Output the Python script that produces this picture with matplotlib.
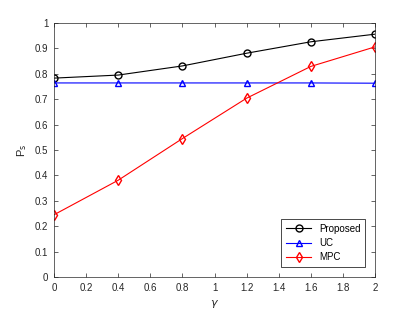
"""Ps versus gamma for the three schemes."""

import matplotlib
matplotlib.use("Agg")
import matplotlib.pyplot as plt
import numpy as np

gamma = [0, 0.4, 0.8, 1.2, 1.6, 2.0]
ps_proposed = [0.783, 0.795, 0.831, 0.881, 0.926, 0.956]
ps_uc = [0.764, 0.764, 0.764, 0.764, 0.764, 0.763]
ps_mpc = [0.245, 0.381, 0.545, 0.704, 0.829, 0.906]

plt.rcParams["font.family"] = ["Liberation Sans", "DejaVu Sans"]

fig = plt.figure(figsize=(4.15, 3.12), dpi=100)
ax = fig.add_axes([54 / 415, 1 - 277 / 312, (375 - 54) / 415, (277 - 23) / 312])

ax.plot(gamma, ps_proposed, color="black", marker="o", markersize=5,
        markerfacecolor="none", linewidth=0.8, label="Proposed")
ax.plot(gamma, ps_uc, color="blue", marker="^", markersize=5,
        markerfacecolor="none", linewidth=0.8, label="UC")
ax.plot(gamma, ps_mpc, color="red", marker="d", markersize=5,
        markerfacecolor="none", linewidth=0.8, label="MPC")

ax.set_xlim(0, 2)
ax.set_ylim(0, 1)
ax.set_xticks(np.arange(0, 2.01, 0.2))
ax.set_xticklabels(["0", "0.2", "0.4", "0.6", "0.8", "1", "1.2", "1.4", "1.6", "1.8", "2"])
ax.set_yticks(np.arange(0, 1.01, 0.1))
ax.set_yticklabels(["0", "0.1", "0.2", "0.3", "0.4", "0.5", "0.6", "0.7", "0.8", "0.9", "1"])
ax.tick_params(direction="in", top=True, right=True, labelsize=7,
               length=3, width=0.5, colors="#262626", pad=4)
for sp in ax.spines.values():
    sp.set_linewidth(0.5)
    sp.set_color("#262626")

ax.set_xlabel(r"$\gamma$", fontsize=8, color="#262626")
ax.set_ylabel(r"P$_{\rm s}$", fontsize=8, color="#262626")

leg = ax.legend(loc="lower right", fontsize=7, fancybox=False, framealpha=1,
                edgecolor="black", handlelength=2.6, borderaxespad=1.0,
                borderpad=0.5, labelspacing=0.45)
leg.get_frame().set_linewidth(0.5)

fig.savefig("out.png", dpi=100)
